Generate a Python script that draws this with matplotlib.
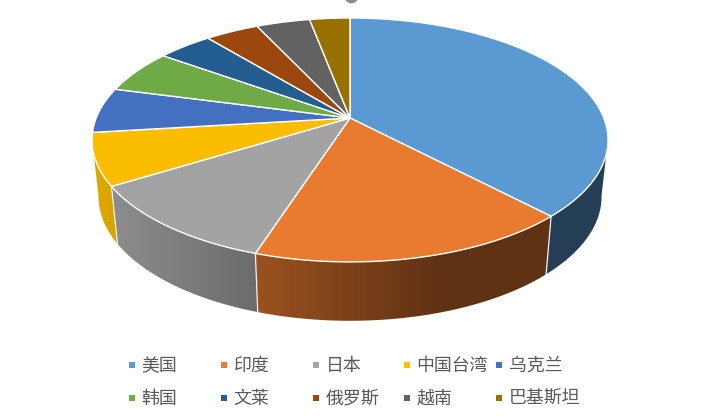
import numpy as np
import matplotlib
matplotlib.use("Agg")
import matplotlib.pyplot as plt
from matplotlib.colors import to_rgb
from matplotlib.patches import Polygon

plt.rcParams['font.family'] = ['Noto Sans CJK SC', 'DejaVu Sans']

names = ["美国", "印度", "日本", "中国台湾", "乌克兰", "韩国", "文莱", "俄罗斯", "越南", "巴基斯坦"]
values = [37.9, 17.1, 11.2, 6.9, 6.0, 5.8, 4.1, 4.0, 4.0, 3.0]
colors = ["#5B9BD5", "#ED7D31", "#A5A5A5", "#FFC000", "#4472C4",
          "#70AD47", "#255E91", "#9E480E", "#636363", "#997300"]

# perspective of the disc, in pixels
cx, cy = 350, 118
rx, ry = 253.8, 118
k = 0.18
wall_sx = 0.975
wall_sy = 1.02
wall_cy = 174


def top(a):
    # a is degrees clockwise from 12 o'clock
    t = np.radians(a)
    u, v = np.sin(t), -np.cos(t)
    w = 1 - k * v
    return cx + rx * u / w, cy + ry * v / w


def bottom(a):
    x, y = top(a)
    return cx + (x - cx) * wall_sx, wall_cy + (y - cy) * wall_sy


def dim(c, f=0.985):
    return tuple(f * n for n in to_rgb(c))


fig = plt.figure(figsize=(7.01, 4.17), dpi=100)
ax = fig.add_axes([0, 0, 1, 1])
ax.axis("off")

edges = np.cumsum([0] + values) / sum(values) * 360

# side wall first, the top covers what is behind
# 100 and 260 degrees are where the rim is widest, the wall outline starts there
gx = np.arange(80, 621)
gs = np.clip(0.87 - (gx - 100) * 0.00138, 0.40, 0.87)
for i in range(len(values)):
    a0, a1 = max(edges[i], 100), min(edges[i + 1], 260)
    if a1 <= a0:
        continue
    t = np.linspace(a0, a1, 150)
    xt, yt = top(t)
    xb, yb = bottom(t)
    poly = Polygon(np.c_[np.r_[xt, xb[::-1]], np.r_[yt, yb[::-1]]], transform=ax.transData,
                   fc="none", ec="none")
    ax.add_patch(poly)
    grad = np.outer(gs, to_rgb(colors[i])).reshape(1, len(gx), 3)
    im = ax.imshow(grad, extent=[80, 621, 340, 100], aspect="auto", interpolation="bilinear", zorder=1)
    im.set_clip_path(poly)

for a in edges[1:]:
    if 100 < a < 250:
        x0, y0 = top(a)
        x1, y1 = bottom(a)
        ax.plot([x0, x1], [y0, y1], color="#F2F2F2", lw=0.9, zorder=2)

# top face
for i in range(len(values)):
    t = np.linspace(edges[i], edges[i + 1], 120)
    x, y = top(t)
    ax.fill(np.r_[cx, x], np.r_[cy, y], facecolor=dim(colors[i]), edgecolor="white", lw=1.0, zorder=3)

# stray selection handle cut by the top edge
ax.scatter([351], [-4], s=100, color="#8C8C8C", lw=0, zorder=4)

# legend
col_x = [129, 221, 313, 404, 496]
row_y = [365, 398]
for i, name in enumerate(names):
    lx = col_x[i % 5]
    ly = row_y[i // 5]
    ax.scatter([lx + 3], [ly], marker="s", s=24, color=colors[i], lw=0, zorder=5)
    ax.text(lx + 12.5, ly + 1, name, fontsize=12.9, color="#595959", va="center", ha="left")

ax.set_xlim(0, 701)
ax.set_ylim(417, 0)
plt.savefig("out.png", dpi=100)
plt.close()
